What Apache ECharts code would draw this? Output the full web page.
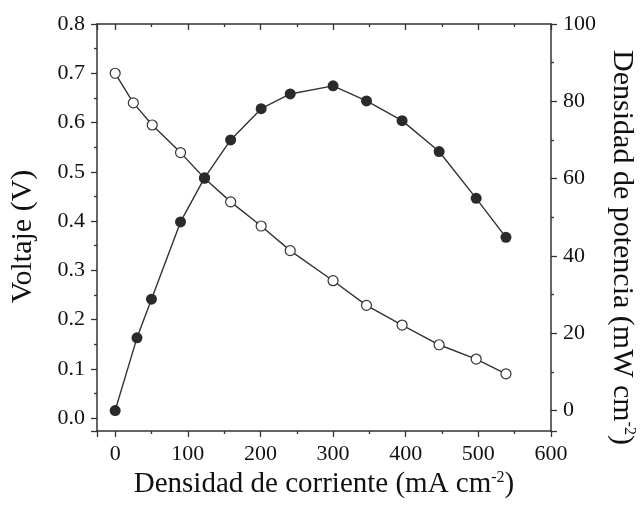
<!DOCTYPE html>
<html>
<head>
<meta charset="utf-8">
<script src="https://cdn.jsdelivr.net/npm/echarts@6/dist/echarts.min.js"></script>
<style>
  html, body { margin: 0; padding: 0; background: #fff; }
  #chart { width: 643px; height: 505px; }
</style>
</head>
<body>
<div id="chart"></div>
<script>
// datos
var corrienteV = [0, 25, 51, 90, 123, 159, 201, 241, 300, 346, 395, 446, 497, 538]
var voltaje = [0.70, 0.64, 0.595, 0.539, 0.487, 0.439, 0.39, 0.34, 0.279, 0.229, 0.189, 0.149, 0.12, 0.09]
var corrienteP = [0, 30, 50, 90, 123, 159, 201, 241, 300, 346, 395, 446, 497, 538]
var potencia = [0, 18.8, 28.8, 48.8, 60.2, 70.0, 78.1, 81.9, 84.0, 80.1, 75.0, 67.0, 54.9, 44.8]

var ink = '#333'
var font = 'Liberation Serif'

function pares(xs, ys) {
  return xs.map(function (x, i) { return [x, ys[i]] })
}

var tickStyle = { color: ink, width: 1.3 }
var lineStyle = { color: ink, width: 1.5 }
var rich = {
  sup: { fontSize: 16, fontFamily: font, color: '#111', verticalAlign: 'top', padding: [0, 0, 12, 0] }
}

var chart = echarts.init(document.getElementById('chart'), null, { renderer: 'canvas' })
var option = {
  animation: false,
  backgroundColor: '#fff',
  // el grid no se encoge para meter los titulos
  grid: { left: 97, right: 92, top: 24, bottom: 74, containLabel: false, outerBoundsMode: 'none' },
  xAxis: [{
    type: 'value', position: 'bottom', min: -25, max: 600, splitNumber: 5,
    splitLine: { show: false },
    axisLine: { onZero: false, lineStyle: lineStyle },
    axisTick: { inside: false, length: 6, lineStyle: tickStyle },
    minorTick: { show: true, splitNumber: 2, length: 3, lineStyle: tickStyle },
    axisLabel: { showMinLabel: false, margin: 12, fontFamily: font, fontSize: 22, color: '#111' },
    name: 'Densidad de corriente (mA cm{sup|-2})',
    nameLocation: 'middle', nameGap: 38,
    nameTextStyle: { fontFamily: font, fontSize: 29, color: '#111', rich: rich }
  }, {
    // eje espejo superior
    type: 'value', position: 'top', min: -25, max: 600, splitNumber: 5,
    splitLine: { show: false },
    axisLine: { onZero: false, lineStyle: lineStyle },
    axisTick: { inside: true, length: 6, lineStyle: tickStyle },
    minorTick: { show: true, splitNumber: 2, length: 3, lineStyle: tickStyle },
    axisLabel: { show: false }
  }],
  yAxis: [{
    type: 'value', position: 'left', min: -0.026, max: 0.8, splitNumber: 8,
    splitLine: { show: false },
    axisLine: { onZero: false, lineStyle: lineStyle },
    axisTick: { inside: false, length: 6, lineStyle: tickStyle },
    minorTick: { show: true, splitNumber: 2, length: 3, lineStyle: tickStyle },
    axisLabel: {
      showMinLabel: false, margin: 12, fontFamily: font, fontSize: 22, color: '#111',
      formatter: function (v) { return v.toFixed(1) }
    },
    name: 'Voltaje (V)',
    nameLocation: 'middle', nameGap: 59,
    nameTextStyle: { fontFamily: font, fontSize: 30, color: '#111', padding: [0, 18, 0, 0] }
  }, {
    type: 'value', position: 'right', min: -5.3, max: 100, splitNumber: 5,
    splitLine: { show: false },
    axisLine: { onZero: false, lineStyle: lineStyle },
    axisTick: { inside: false, length: 6, lineStyle: tickStyle },
    minorTick: { show: true, splitNumber: 2, length: 3, lineStyle: tickStyle },
    axisLabel: { showMinLabel: false, margin: 12, fontFamily: font, fontSize: 22, color: '#111' },
    name: 'Densidad de potencia (mW cm{sup|-2})',
    nameLocation: 'middle', nameGap: 48, nameRotate: -90,
    nameTextStyle: { fontFamily: font, fontSize: 30, color: '#111', rich: rich, padding: [0, 0, 0, 40] }
  }],
  series: [{
    type: 'line', name: 'Voltaje', xAxisIndex: 0, yAxisIndex: 0,
    data: pares(corrienteV, voltaje),
    symbol: 'circle', symbolSize: 10,
    lineStyle: { color: ink, width: 1.4 },
    itemStyle: { color: '#fff', borderColor: ink, borderWidth: 1.2 }
  }, {
    type: 'line', name: 'Potencia', xAxisIndex: 0, yAxisIndex: 1,
    data: pares(corrienteP, potencia),
    symbol: 'circle', symbolSize: 11,
    lineStyle: { color: ink, width: 1.4 },
    itemStyle: { color: '#2a2a2a', borderColor: '#2a2a2a', borderWidth: 0 }
  }]
}
chart.setOption(option)
</script>
</body>
</html>
